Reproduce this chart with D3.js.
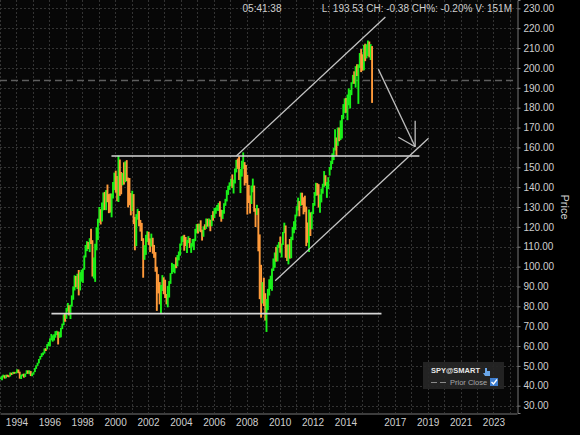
<!DOCTYPE html>
<html>
<head>
<meta charset="utf-8">
<script src="https://cdn.jsdelivr.net/npm/d3@7"></script>
<style>
body { margin: 0; background: #000; }
svg { display: block; font-family: "Liberation Sans", Arial, sans-serif; }
</style>
</head>
<body>
<svg width="580" height="435"></svg>
<script>
// SPY monthly bars, Jan 1993 .. Aug 2015
const firstMonth = "1993-01";
const firstOpen = 43.6;
const closes = [
  43.9, 44.3, 45.2, 44.0, 45.2, 45.1, 44.8, 46.6, 45.9, 46.9, 46.5, 46.6,   // 1993
  48.2, 46.6, 44.6, 45.1, 45.8, 44.4, 46.0, 47.7, 46.5, 47.3, 45.6, 45.6,   // 1994
  47.0, 48.7, 50.1, 51.5, 53.4, 54.6, 56.2, 56.3, 58.5, 58.4, 60.8, 61.5,   // 1995
  63.7, 64.1, 64.9, 65.5, 67.1, 67.2, 64.3, 65.8, 69.0, 70.8, 75.7, 74.1,   // 1996
  78.6, 79.3, 75.7, 80.5, 85.0, 88.5, 95.4, 89.8, 94.8, 91.8, 95.5, 97.0,   // 1997
  98.6, 105.2, 110.5, 111.6, 109.6, 114.1, 112.5, 95.9, 102.0, 110.4, 117.1, 123.3, // 1998
  128.6, 124.4, 128.6, 134.0, 130.5, 137.2, 132.9, 131.8, 128.3, 136.3, 139.7, 146.9, // 1999
  139.6, 137.4, 150.4, 145.1, 141.9, 145.3, 143.6, 152.4, 143.6, 142.8, 131.3, 131.2, // 2000
  136.0, 124.0, 116.7, 125.2, 126.2, 122.4, 121.3, 113.7, 104.4, 106.1, 114.1, 114.3, // 2001
  113.1, 110.4, 114.5, 107.7, 106.7, 99.0, 91.5, 91.2, 81.6, 88.7, 94.0, 88.2,      // 2002
  85.6, 84.2, 84.7, 91.8, 96.4, 97.6, 99.6, 101.0, 99.6, 105.4, 106.2, 111.3,       // 2003
  113.1, 114.5, 113.1, 110.9, 112.5, 114.5, 110.7, 111.0, 111.8, 113.0, 118.0, 120.9, // 2004
  118.1, 120.6, 118.0, 115.8, 119.5, 119.2, 123.6, 122.0, 123.0, 120.9, 125.3, 124.5, // 2005
  128.0, 128.2, 129.8, 131.5, 127.5, 127.3, 128.3, 131.0, 133.6, 138.1, 140.2, 141.6, // 2006
  144.2, 140.9, 142.0, 148.3, 153.3, 150.4, 145.7, 147.6, 152.6, 154.7, 148.7, 146.2, // 2007
  137.4, 133.8, 132.0, 138.3, 140.4, 128.0, 126.5, 128.8, 116.0, 96.8, 89.6, 90.2,   // 2008
  82.8, 73.9, 79.5, 87.3, 91.9, 91.9, 98.8, 102.5, 105.6, 103.6, 109.9, 111.4,      // 2009
  107.4, 110.7, 117.0, 118.8, 109.4, 102.9, 110.1, 105.3, 114.1, 118.5, 118.5, 125.8, // 2010
  128.7, 133.2, 132.5, 136.4, 134.9, 132.0, 128.4, 121.7, 113.2, 125.5, 124.9, 125.5, // 2011
  131.3, 137.0, 140.8, 139.9, 131.5, 136.1, 137.7, 141.2, 144.0, 141.4, 141.5, 142.4, // 2012
  149.7, 151.6, 156.7, 159.7, 163.5, 160.4, 168.7, 163.7, 168.0, 175.8, 181.0, 184.7, // 2013
  178.2, 186.3, 187.0, 188.3, 192.7, 195.7, 193.1, 200.7, 197.0, 201.7, 207.2, 205.5, // 2014
  199.5, 210.7, 206.4, 208.5, 211.1, 205.9, 210.5, 193.5                              // 2015
];
const highs = [
  44.3, 45.0, 45.6, 45.3, 45.5, 45.6, 45.3, 46.7, 46.6, 47.0, 47.0, 47.0,
  48.3, 48.2, 47.1, 45.5, 46.0, 46.1, 46.1, 47.8, 47.7, 47.8, 47.4, 46.3,
  47.1, 48.9, 50.3, 51.6, 53.5, 55.0, 56.4, 56.8, 58.8, 58.9, 61.0, 62.1,
  63.9, 66.1, 65.4, 65.9, 67.5, 67.7, 67.3, 67.2, 69.2, 71.3, 75.9, 76.4,
  79.2, 81.7, 80.5, 80.8, 85.5, 89.9, 95.6, 95.3, 96.4, 98.3, 97.2, 98.4,
  99.0, 105.6, 110.9, 112.8, 112.4, 114.3, 119.0, 113.3, 104.6, 111.5, 119.8, 124.1,
  130.0, 128.9, 132.3, 137.3, 137.6, 138.5, 141.3, 136.5, 136.8, 136.8, 142.6, 147.3,
  148.3, 145.6, 155.8, 153.9, 147.6, 147.1, 152.5, 153.0, 153.6, 144.8, 144.6, 137.0,
  138.2, 136.5, 125.0, 126.4, 129.1, 128.0, 123.5, 122.0, 114.3, 110.8, 116.0, 117.8,
  117.5, 114.2, 116.6, 114.5, 110.9, 107.3, 99.9, 96.2, 92.2, 90.7, 95.7, 94.6,
  93.4, 86.2, 90.3, 92.7, 96.7, 101.9, 101.3, 101.1, 104.7, 105.8, 107.6, 111.6,
  115.2, 115.6, 116.0, 114.9, 113.4, 115.3, 114.4, 111.8, 113.9, 114.0, 119.0, 121.4,
  121.6, 121.6, 123.3, 118.6, 120.3, 121.3, 124.2, 124.1, 124.2, 123.6, 126.0, 127.9,
  129.5, 129.8, 131.0, 132.0, 132.9, 128.6, 128.5, 131.9, 134.1, 138.5, 140.7, 142.4,
  144.3, 146.4, 143.8, 149.4, 153.7, 154.4, 155.5, 149.2, 153.3, 157.5, 152.6, 151.1,
  146.2, 141.1, 135.8, 140.8, 144.3, 140.8, 129.4, 131.1, 129.4, 116.2, 100.9, 92.2,
  94.4, 86.6, 83.7, 88.8, 93.6, 95.4, 99.0, 104.1, 107.1, 109.9, 111.0, 112.4,
  115.1, 111.6, 117.4, 122.1, 120.7, 111.1, 111.2, 113.9, 115.0, 120.0, 122.8, 126.2,
  130.4, 134.7, 133.0, 137.2, 137.2, 134.9, 135.7, 130.2, 122.2, 128.8, 127.3, 127.6,
  132.0, 137.5, 142.2, 142.0, 141.5, 136.3, 139.3, 141.7, 148.1, 146.0, 142.6, 145.0,
  150.2, 153.3, 157.0, 159.7, 169.1, 165.0, 170.0, 170.0, 173.6, 176.3, 181.8, 184.7,
  184.9, 186.6, 189.7, 188.9, 192.8, 196.5, 198.3, 200.9, 201.9, 201.8, 207.5, 209.5,
  206.9, 211.6, 212.2, 211.9, 213.8, 213.3, 212.0, 211.0
];
const lows = [
  43.3, 42.8, 44.2, 43.6, 43.8, 44.5, 44.3, 44.7, 45.4, 45.8, 46.0, 46.2,
  46.5, 46.3, 43.6, 43.4, 44.8, 44.1, 44.4, 45.9, 46.0, 45.8, 44.9, 44.8,
  45.6, 46.9, 48.5, 50.0, 51.3, 53.2, 54.5, 55.4, 56.2, 57.5, 58.3, 60.0,
  59.8, 62.9, 62.2, 62.8, 64.2, 65.5, 60.8, 64.1, 64.4, 68.5, 70.5, 72.2,
  73.7, 77.4, 75.4, 73.6, 79.9, 83.3, 88.0, 89.6, 88.7, 85.5, 88.0, 92.4,
  91.8, 98.4, 104.6, 107.8, 108.8, 107.3, 111.4, 95.0, 94.0, 92.3, 108.2, 113.4,
  122.0, 121.2, 122.7, 128.3, 128.5, 128.4, 132.4, 126.9, 127.2, 124.8, 134.3, 138.5,
  137.2, 132.9, 132.5, 135.6, 136.4, 140.9, 141.3, 142.5, 143.0, 129.8, 130.9, 125.8,
  127.9, 121.4, 108.2, 110.3, 123.6, 120.3, 117.6, 112.9, 94.4, 103.4, 105.9, 112.4,
  110.9, 107.3, 110.1, 106.5, 104.4, 97.4, 77.7, 86.5, 81.0, 76.7, 87.7, 86.1,
  84.2, 81.0, 79.5, 84.4, 91.3, 96.3, 97.2, 96.6, 99.2, 100.1, 103.1, 105.5,
  110.6, 112.4, 108.0, 110.3, 106.9, 111.8, 109.4, 106.9, 110.0, 108.3, 112.8, 116.7,
  116.6, 117.7, 117.3, 113.1, 115.0, 118.5, 119.0, 120.1, 120.2, 117.8, 120.3, 123.1,
  124.4, 126.6, 128.1, 128.0, 125.1, 122.6, 124.0, 126.6, 130.6, 132.8, 136.1, 138.6,
  140.4, 139.5, 136.8, 141.8, 147.4, 149.2, 143.6, 137.0, 145.3, 149.2, 140.8, 142.1,
  126.2, 132.0, 126.7, 131.5, 137.4, 127.6, 119.9, 126.0, 107.7, 83.6, 74.3, 81.4,
  80.1, 72.8, 67.1, 78.1, 85.4, 88.7, 87.8, 97.8, 99.4, 102.5, 102.6, 109.4,
  107.0, 104.6, 110.9, 116.8, 104.4, 102.8, 101.1, 104.0, 104.2, 113.3, 116.8, 118.5,
  125.3, 128.2, 125.3, 130.6, 131.0, 126.3, 127.5, 110.3, 112.0, 107.4, 115.4, 118.8,
  126.4, 130.6, 135.6, 135.8, 129.7, 127.1, 132.3, 136.7, 140.1, 140.7, 134.6, 139.0,
  145.8, 148.7, 151.6, 153.6, 158.4, 155.7, 160.8, 163.1, 163.7, 164.5, 174.2, 177.3,
  177.4, 173.7, 181.2, 179.6, 186.3, 192.0, 192.0, 190.1, 196.0, 181.9, 200.0, 197.9,
  198.6, 198.8, 203.4, 204.8, 206.0, 205.3, 204.0, 182.4
];

const priceTicks = [30, 40, 50, 60, 70, 80, 90, 100, 110, 120, 130, 140, 150, 160, 170, 180, 190, 200, 210, 220, 230];
const yearTicks = [1994, 1996, 1998, 2000, 2002, 2004, 2006, 2008, 2010, 2012, 2014, 2017, 2019, 2021, 2023];
const gridYears = d3.range(1993, 2025);
const priorClose = 193.91;

// drawn trend lines: [date, price] pairs
const trendLines = [
  [["1999-10-12", 155.7], ["2018-07-01", 155.7]],
  [["1996-02-17", 76.3], ["2016-03-11", 76.3]],
  [["2007-05-15", 155.7], ["2016-06-06", 225.6]],
  [["2009-09-24", 92.9], ["2019-01-19", 164.6]]
];
const arrowLines = [
  [["2016-01-01", 199.4], ["2018-03-29", 160.3]],
  [["2018-03-29", 160.3], ["2018-03-29", 173.4]],
  [["2018-03-29", 160.3], ["2017-03-20", 165.1]]
];

let svg = d3.select("svg");
const W = 517, H = 413;
const parseDay = d3.timeParse("%Y-%m-%d");
const parseMonth = d3.timeParse("%Y-%m");

let x = d3.scaleTime().domain([new Date(1993, 0, 1), new Date(2024, 5, 6)]).range([0, W]);
let y = d3.scaleLinear().domain([26.3, 234.2]).range([H, 0]);

svg.append("rect").attr("width", 580).attr("height", 435).attr("fill", "#000");
svg.append("rect").attr("width", W).attr("height", H).attr("fill", "#070707");

svg.append("defs").append("clipPath").attr("id", "plot")
  .append("rect").attr("width", W).attr("height", H);

// grid
let grid = svg.append("g").attr("stroke", "#333").attr("stroke-dasharray", "2,2").attr("stroke-width", 1);
grid.selectAll("line.v").data(gridYears).enter().append("line")
  .attr("class", "v")
  .attr("x1", d => Math.round(x(new Date(d, 0, 1))) + 0.5)
  .attr("x2", d => Math.round(x(new Date(d, 0, 1))) + 0.5)
  .attr("y1", 0).attr("y2", H);
grid.selectAll("line.h").data(priceTicks).enter().append("line")
  .attr("class", "h")
  .attr("x1", 0).attr("x2", W)
  .attr("y1", d => Math.round(y(d)) + 0.5)
  .attr("y2", d => Math.round(y(d)) + 0.5);

// prior close
svg.append("line")
  .attr("x1", 0).attr("x2", W)
  .attr("y1", Math.round(y(priorClose)) + 0.5).attr("y2", Math.round(y(priorClose)) + 0.5)
  .attr("stroke", "#5e5e5e").attr("stroke-width", 1.3).attr("stroke-dasharray", "7,4");

// bars
const start = parseMonth(firstMonth);
let bars = closes.map((c, i) => ({
  date: d3.timeDay.offset(d3.timeMonth.offset(start, i), 14),
  open: i === 0 ? firstOpen : closes[i - 1],
  high: highs[i], low: lows[i], close: c
}));

let barG = svg.append("g").attr("clip-path", "url(#plot)");
barG.selectAll("line").data(bars).enter().append("line")
  .attr("x1", d => x(d.date)).attr("x2", d => x(d.date))
  .attr("y1", d => y(d.high)).attr("y2", d => y(d.low))
  .attr("stroke", d => d.close >= d.open ? "#19f019" : "#ff9a3a")
  .attr("stroke-width", 1.9);

// annotations
let annG = svg.append("g").attr("clip-path", "url(#plot)").attr("fill", "none");
annG.selectAll("line.t").data(trendLines).enter().append("line")
  .attr("class", "t")
  .attr("x1", d => x(parseDay(d[0][0]))).attr("y1", d => y(d[0][1]))
  .attr("x2", d => x(parseDay(d[1][0]))).attr("y2", d => y(d[1][1]))
  .attr("stroke", (d, i) => i < 2 ? "#d6d6d6" : "#c4c4c4")
  .attr("stroke-width", (d, i) => i < 2 ? 1.6 : 1.3);
annG.selectAll("line.a").data(arrowLines).enter().append("line")
  .attr("class", "a")
  .attr("x1", d => x(parseDay(d[0][0]))).attr("y1", d => y(d[0][1]))
  .attr("x2", d => x(parseDay(d[1][0]))).attr("y2", d => y(d[1][1]))
  .attr("stroke", "#bdbdbd").attr("stroke-width", 1.3);

// axes
let yAxis = svg.append("g").attr("transform", `translate(${W + 0.5},0)`)
  .call(d3.axisRight(y).tickValues(priceTicks).tickFormat(d3.format(".2f")).tickSize(3).tickPadding(3));
let xAxis = svg.append("g").attr("transform", `translate(0,${H + 0.5})`)
  .call(d3.axisBottom(x).tickValues(yearTicks.map(d => new Date(d, 0, 1))).tickFormat(d3.timeFormat("%Y")).tickSize(0).tickPadding(5));
[yAxis, xAxis].forEach(a => {
  a.select(".domain").attr("stroke", "#7a7a7a");
  a.selectAll(".tick line").attr("stroke", "#7a7a7a");
  a.selectAll("text").attr("fill", "#cfcfcf").attr("font-size", 10)
    .attr("font-family", "'Liberation Sans', Arial, sans-serif");
});

svg.append("text")
  .attr("transform", "translate(561,207) rotate(90)")
  .attr("text-anchor", "middle")
  .attr("fill", "#cfcfcf").attr("font-size", 11)
  .text("Price");

// header
svg.append("text").attr("x", 262).attr("y", 12).attr("text-anchor", "middle")
  .attr("fill", "#cfcfcf").attr("font-size", 10).text("05:41:38");
svg.append("text").attr("x", 512).attr("y", 12).attr("text-anchor", "end")
  .attr("fill", "#cfcfcf").attr("font-size", 10).text("L: 193.53 CH: -0.38 CH%: -0.20% V: 151M");

// legend
let leg = svg.append("g").attr("transform", "translate(423,362)");
leg.append("rect").attr("width", 81).attr("height", 27).attr("fill", "#262626").attr("fill-opacity", 0.92);
leg.append("text").attr("x", 8).attr("y", 11).attr("fill", "#e6e6e6")
  .attr("font-size", 7.5).attr("font-weight", "bold").text("SPY@SMART");
leg.append("path").attr("d", "M62,6 l2,0 l0,3 l3,0 l0,5 l-5,0 l-2,-3 l2,0 z").attr("fill", "#6aa6e8");
leg.append("line").attr("x1", 8).attr("x2", 24).attr("y1", 20.5).attr("y2", 20.5)
  .attr("stroke", "#8a8a8a").attr("stroke-dasharray", "6,3");
leg.append("text").attr("x", 27).attr("y", 23).attr("fill", "#a8a8a8").attr("font-size", 7.5).text("Prior Close");
leg.append("rect").attr("x", 67).attr("y", 16).attr("width", 8).attr("height", 8).attr("fill", "#3f7fd0");
leg.append("path").attr("d", "M68.5,20 l2,2 l3.5,-4.5").attr("stroke", "#fff").attr("stroke-width", 1.4).attr("fill", "none");
</script>
</body>
</html>
